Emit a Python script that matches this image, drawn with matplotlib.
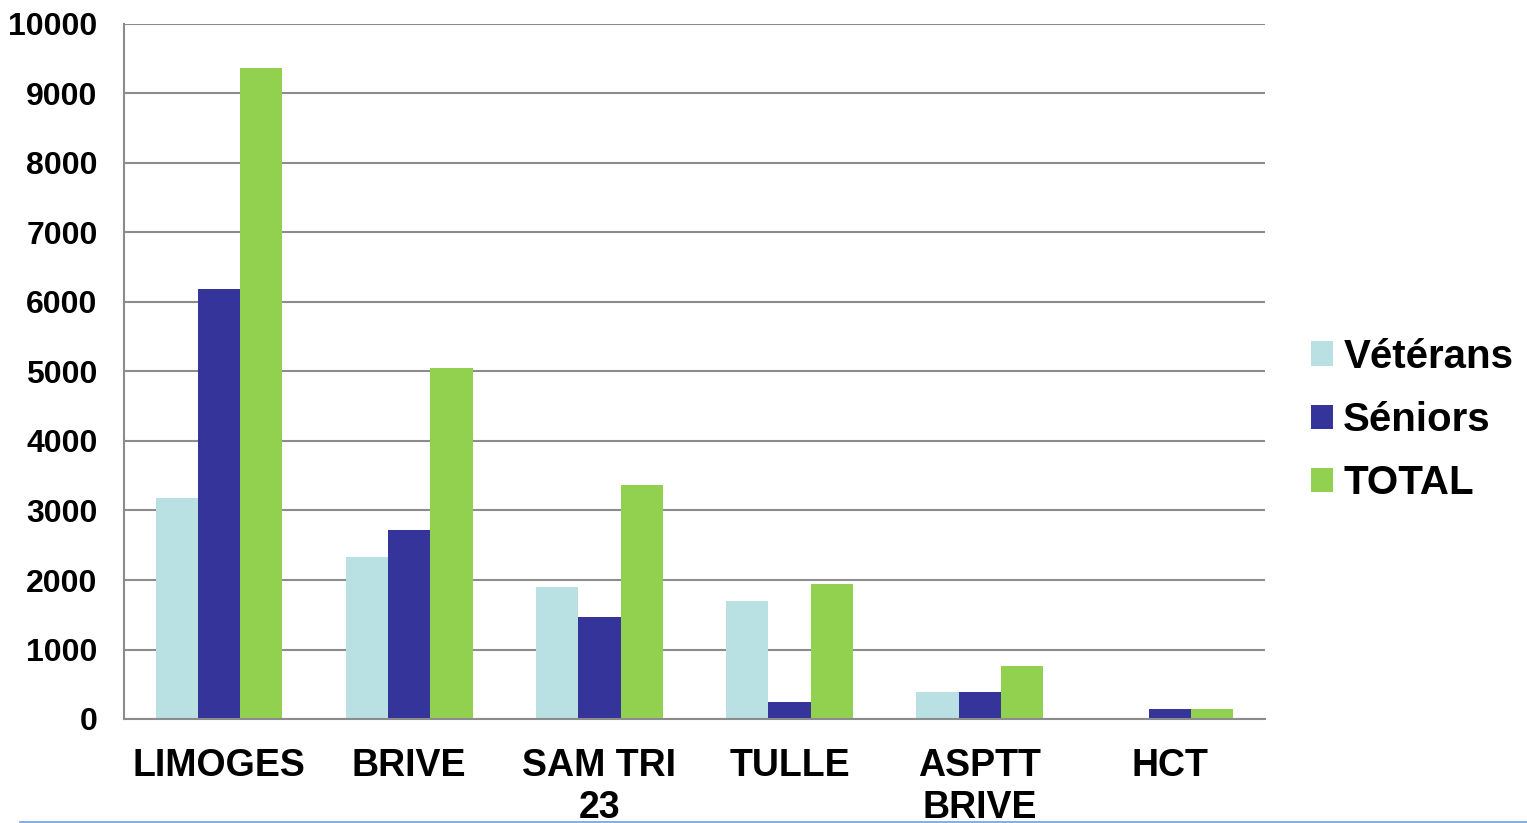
import numpy as np
import matplotlib.pyplot as plt
from matplotlib.lines import Line2D

# data
clubs = ["LIMOGES", "BRIVE", "SAM TRI\n23", "TULLE", "ASPTT\nBRIVE", "HCT"]
veterans = [3180, 2330, 1900, 1700, 390, 0]
seniors = [6190, 2720, 1470, 245, 390, 145]
total = [9370, 5050, 3370, 1945, 765, 145]
series_names = ["Vétérans", "Séniors", "TOTAL"]
colors = ["#b9e0e3", "#35349a", "#92d050"]

plt.rcParams['font.family'] = ['Liberation Sans', 'DejaVu Sans']
plt.rcParams['font.weight'] = 'bold'

fig = plt.figure(figsize=(15.27, 8.23), dpi=100)
ax = fig.add_axes([124 / 1527, 1 - 719 / 823, 1141 / 1527, 695 / 823])

x = np.arange(len(clubs))
w = 0.222
for i, (vals, name) in enumerate(zip([veterans, seniors, total], series_names)):
    ax.bar(x + (i - 1) * w, vals, width=w, color=colors[i], label=name, zorder=3)

ax.set_xlim(-0.5, len(clubs) - 0.5)
ax.set_ylim(0, 10000)
ax.set_yticks(np.arange(0, 10001, 1000))
ax.set_xticks(x)
ax.set_xticklabels(clubs, fontsize=27, fontweight='bold', linespacing=1.22)
ax.tick_params(axis='y', labelsize=23, length=0, pad=19)
ax.tick_params(axis='x', length=0, pad=21)
for lbl in ax.get_yticklabels():
    lbl.set_fontweight('bold')

ax.grid(axis='y', color='#8c8c8c', linewidth=1.5, zorder=0)
for s in ['top', 'right']:
    ax.spines[s].set_visible(False)
for s in ['left', 'bottom']:
    ax.spines[s].set_color('#8c8c8c')
    ax.spines[s].set_linewidth(1.5)
ax.spines['bottom'].set_zorder(4)

ax.legend(loc='center left', bbox_to_anchor=(1311 / 1527, 1 - 420 / 823),
          bbox_transform=fig.transFigure, frameon=False, borderpad=0,
          borderaxespad=0, prop={'size': 29, 'weight': 'bold'},
          handlelength=0.55, handleheight=0.55, handletextpad=0.25,
          labelspacing=0.63)

fig.add_artist(Line2D([20 / 1527, 1], [1 - 822 / 823] * 2, color='#6fa0e0',
                      linewidth=1.2, transform=fig.transFigure))

fig.savefig('out.png', dpi=100)
